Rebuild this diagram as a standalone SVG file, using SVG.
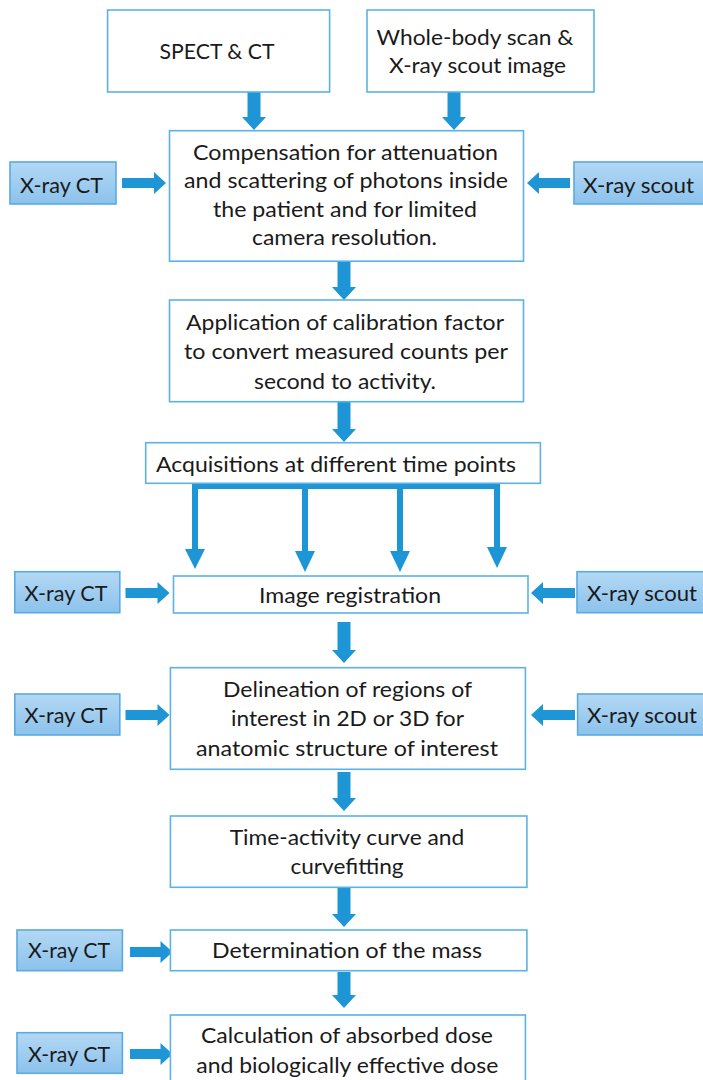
<svg xmlns="http://www.w3.org/2000/svg" width="703" height="1080" viewBox="0 0 703 1080">
<defs>
<linearGradient id="sideFill" x1="0" y1="0" x2="0" y2="1">
<stop offset="0" stop-color="#b3d8f4"/>
<stop offset="1" stop-color="#8cc2ec"/>
</linearGradient>
<style>
.box{fill:#ffffff;stroke:#5cb2e6;stroke-width:1.6}
.side{fill:url(#sideFill);stroke:#5aabe0;stroke-width:1.6}
.t{font-family:Lato,"Open Sans","Liberation Sans",sans-serif;font-size:21px;fill:#1a1a1a;text-anchor:middle}
.arr{fill:#1e95d4}
.br{fill:none;stroke:#1e95d4;stroke-width:6}
</style>
</defs>
<rect width="703" height="1080" fill="#ffffff"/>
<g id="connectors">
<path class="arr" d="M247.5,92 H260.5 V117 H266 L254,130 L242,117 H247.5 Z"/>
<path class="arr" d="M447.5,92 H460.5 V117 H466 L454,130 L442,117 H447.5 Z"/>
<path class="arr" d="M337.5,262 H350.5 V287 H356 L344,300 L332,287 H337.5 Z"/>
<path class="arr" d="M337.5,402 H350.5 V429 H356 L344,442 L332,429 H337.5 Z"/>
<path class="arr" d="M337.5,622 H350.5 V650 H356 L344,663 L332,650 H337.5 Z"/>
<path class="arr" d="M337.5,772 H350.5 V798 H356 L344,811 L332,798 H337.5 Z"/>
<path class="arr" d="M337.5,888 H350.5 V914 H356 L344,927 L332,914 H337.5 Z"/>
<path class="arr" d="M337.5,972 H350.5 V995 H356 L344,1008 L332,995 H337.5 Z"/>
<path class="arr" d="M122,178 H154 V172 L166,183 L154,194 V188 H122 Z"/>
<path class="arr" d="M570,178 H539 V172 L527,183 L539,194 V188 H570 Z"/>
<path class="arr" d="M125.5,588 H157.5 V582 L169.5,593 L157.5,604 V598 H125.5 Z"/>
<path class="arr" d="M575,588 H543 V582 L531,593 L543,604 V598 H575 Z"/>
<path class="arr" d="M125.5,710 H157.5 V704 L169.5,715 L157.5,726 V720 H125.5 Z"/>
<path class="arr" d="M575,710 H543 V704 L531,715 L543,726 V720 H575 Z"/>
<path class="arr" d="M130,947 H160.5 V941 L172.5,952 L160.5,963 V957 H130 Z"/>
<path class="arr" d="M130,1049 H160.5 V1043 L172.5,1054 L160.5,1065 V1059 H130 Z"/>
<path class="br" d="M195,551 V486 H497 V549"/>
<path class="br" d="M305,486 V553"/>
<path class="br" d="M400,486 V553"/>
<polygon class="arr" points="185,549 205,549 195,569"/>
<polygon class="arr" points="295,551 315,551 305,572"/>
<polygon class="arr" points="390,551 410,551 400,572"/>
<polygon class="arr" points="487,547 507,547 497,568"/>
</g>
<g id="n-spect">
<rect class="box" x="107.6" y="10" width="222" height="82"/>
<text class="t" x="217" y="59" textLength="115" lengthAdjust="spacingAndGlyphs">SPECT &amp; CT</text>
</g>
<g id="n-wholebody">
<rect class="box" x="367" y="10" width="227" height="82"/>
<text class="t" x="475" y="45" textLength="197" lengthAdjust="spacingAndGlyphs">Whole-body scan &amp;</text>
<text class="t" x="477.5" y="73" textLength="177" lengthAdjust="spacingAndGlyphs">X-ray scout image</text>
</g>
<g id="n-compensation">
<rect class="box" x="169.5" y="130.7" width="354" height="130.5"/>
<text class="t" x="345.5" y="160" textLength="305" lengthAdjust="spacingAndGlyphs">Compensation for attenuation</text>
<text class="t" x="346" y="188" textLength="324" lengthAdjust="spacingAndGlyphs">and scattering of photons inside</text>
<text class="t" x="345" y="217" textLength="264" lengthAdjust="spacingAndGlyphs">the patient and for limited</text>
<text class="t" x="344.5" y="245" textLength="185" lengthAdjust="spacingAndGlyphs">camera resolution.</text>
</g>
<g id="n-xct1">
<rect class="side" x="10" y="162" width="106" height="42"/>
<text class="t" x="61.5" y="193" textLength="83" lengthAdjust="spacingAndGlyphs">X-ray CT</text>
</g>
<g id="n-xscout1">
<rect class="side" x="574" y="162" width="135" height="42"/>
<text class="t" x="638.5" y="193" textLength="111" lengthAdjust="spacingAndGlyphs">X-ray scout</text>
</g>
<g id="n-application">
<rect class="box" x="169.5" y="300" width="354" height="101.7"/>
<text class="t" x="345" y="330" textLength="318" lengthAdjust="spacingAndGlyphs">Application of calibration factor</text>
<text class="t" x="346" y="359" textLength="324" lengthAdjust="spacingAndGlyphs">to convert measured counts per</text>
<text class="t" x="345" y="389" textLength="182" lengthAdjust="spacingAndGlyphs">second to activity.</text>
</g>
<g id="n-acquisitions">
<rect class="box" x="145.7" y="442.7" width="394.7" height="40.6"/>
<text class="t" x="336" y="471.7" textLength="360" lengthAdjust="spacingAndGlyphs">Acquisitions at different time points</text>
</g>
<g id="n-registration">
<rect class="box" x="173.5" y="576" width="354.5" height="37"/>
<text class="t" x="350" y="603.3" textLength="182" lengthAdjust="spacingAndGlyphs">Image registration</text>
</g>
<g id="n-xct2">
<rect class="side" x="14.8" y="571.7" width="105" height="41"/>
<text class="t" x="66" y="600.5" textLength="83" lengthAdjust="spacingAndGlyphs">X-ray CT</text>
</g>
<g id="n-xscout2">
<rect class="side" x="577" y="571.7" width="132" height="41"/>
<text class="t" x="642" y="600.5" textLength="110" lengthAdjust="spacingAndGlyphs">X-ray scout</text>
</g>
<g id="n-delineation">
<rect class="box" x="170.4" y="667.7" width="355" height="101.6"/>
<text class="t" x="347.5" y="696.7" textLength="249" lengthAdjust="spacingAndGlyphs">Delineation of regions of</text>
<text class="t" x="347.5" y="726" textLength="233" lengthAdjust="spacingAndGlyphs">interest in 2D or 3D for</text>
<text class="t" x="347" y="756" textLength="302" lengthAdjust="spacingAndGlyphs">anatomic structure of interest</text>
</g>
<g id="n-xct3">
<rect class="side" x="14.8" y="694" width="105" height="41"/>
<text class="t" x="66" y="723" textLength="83" lengthAdjust="spacingAndGlyphs">X-ray CT</text>
</g>
<g id="n-xscout3">
<rect class="side" x="577.6" y="694" width="132" height="41"/>
<text class="t" x="642" y="723" textLength="110" lengthAdjust="spacingAndGlyphs">X-ray scout</text>
</g>
<g id="n-timeactivity">
<rect class="box" x="170.4" y="816" width="356.5" height="71.3"/>
<text class="t" x="347" y="845" textLength="234.5" lengthAdjust="spacingAndGlyphs">Time-activity curve and</text>
<text class="t" x="347" y="874" textLength="113" lengthAdjust="spacingAndGlyphs">curvefitting</text>
</g>
<g id="n-mass">
<rect class="box" x="170.4" y="930" width="356.5" height="40.7"/>
<text class="t" x="347" y="958.3" textLength="270" lengthAdjust="spacingAndGlyphs">Determination of the mass</text>
</g>
<g id="n-xct4">
<rect class="side" x="17" y="930" width="105.4" height="40.7"/>
<text class="t" x="69" y="958.3" textLength="82" lengthAdjust="spacingAndGlyphs">X-ray CT</text>
</g>
<g id="n-dose">
<rect class="box" x="170.4" y="1015" width="355" height="80"/>
<text class="t" x="347" y="1043.3" textLength="292" lengthAdjust="spacingAndGlyphs">Calculation of absorbed dose</text>
<text class="t" x="347.3" y="1072.7" textLength="302" lengthAdjust="spacingAndGlyphs">and biologically effective dose</text>
</g>
<g id="n-xct5">
<rect class="side" x="17" y="1032.7" width="105.4" height="40.6"/>
<text class="t" x="69" y="1061.7" textLength="82" lengthAdjust="spacingAndGlyphs">X-ray CT</text>
</g>
</svg>
